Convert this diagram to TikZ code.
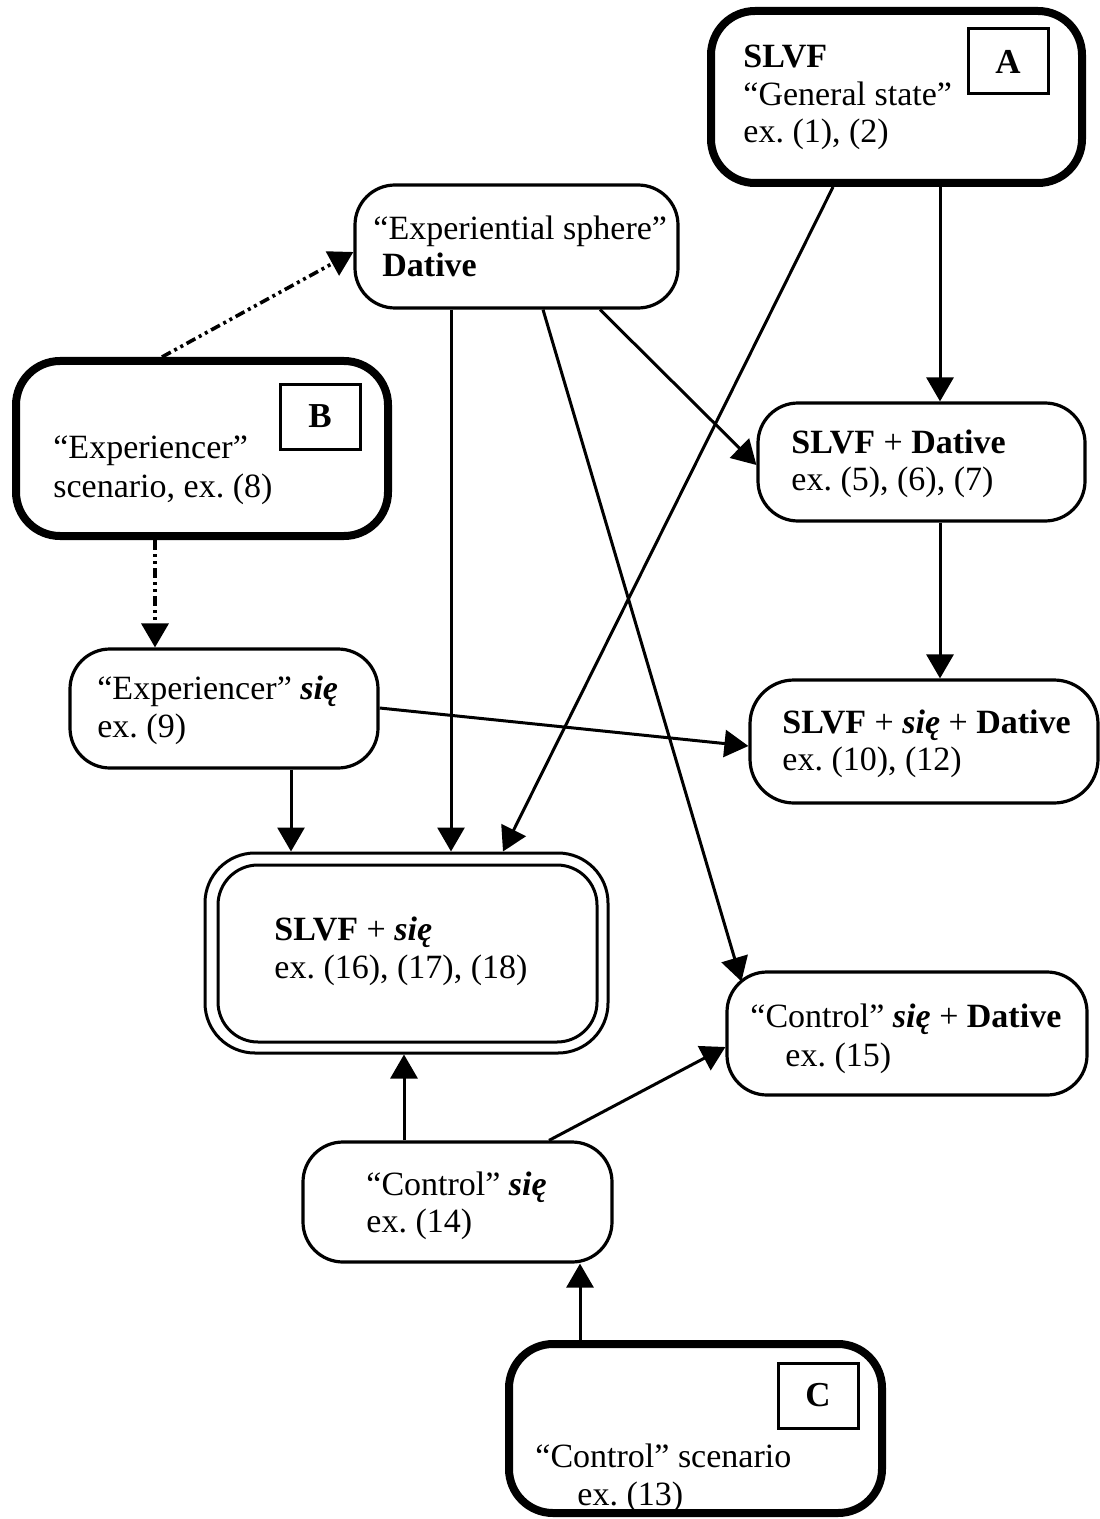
\documentclass[tikz,border=0pt]{standalone}
\usepackage{fontspec}
\setmainfont{Liberation Serif}
\usetikzlibrary{arrows.meta,calc}
\frenchspacing
\tikzset{
  box/.style={draw, rounded corners=20pt, line width=1.6pt, inner sep=0pt, fill=white},
  thickbox/.style={draw, rounded corners=22pt, line width=4pt, inner sep=0pt, fill=white},
  labelbox/.style={draw, line width=1.5pt, inner sep=0pt, minimum width=40pt, minimum height=32.5pt,
    font=\fontsize{17.5}{20}\selectfont\bfseries},
  txt/.style={anchor=base west, inner sep=0pt, font=\fontsize{17}{20}\selectfont},
  arr/.style={-{Triangle[length=12pt,width=13.5pt]}, line width=1.5pt},
  dasharr/.style={arr, line width=1.8pt, dash pattern=on 5pt off 2pt on 1.5pt off 2pt on 1.5pt off 2pt}
}
\newcommand{\sie}{\textbf{\textit{się}}}
\begin{document}
\frenchspacing
\begin{tikzpicture}[x=0.5pt,y=-0.5pt]
\useasboundingbox (0,0) rectangle (1099,1519);
% boxes
\node[thickbox, minimum width=185.5pt, minimum height=86pt] (A) at (896.5,97) {};
\node[labelbox] (LA) at (1008,61.5) {A};
\node[box, minimum width=161.5pt, minimum height=61.5pt] (E) at (516.5,246.5) {};
\node[thickbox, minimum width=186pt, minimum height=87.5pt] (B) at (202,448.5) {};
\node[labelbox] (LB) at (320,416.5) {B};
\node[box, minimum width=163.5pt, minimum height=59pt] (SD) at (921.5,462) {};
\node[box, minimum width=154pt, minimum height=59.5pt] (ES) at (224,708.5) {};
\node[box, rounded corners=22pt, minimum width=174pt, minimum height=61.5pt] (SSD) at (924,741.5) {};
\node[box, rounded corners=25pt, line width=1.5pt, minimum width=201.5pt, minimum height=100pt] (S) at (406.5,953) {};
\node[box, line width=1.5pt, minimum width=189.5pt, minimum height=88.5pt] (Si) at (407.5,953.5) {};
\node[box, minimum width=180pt, minimum height=61.5pt] (CD) at (907,1033.5) {};
\node[box, minimum width=154.5pt, minimum height=60pt] (CS) at (457.5,1202) {};
\node[thickbox, minimum width=186.5pt, minimum height=84.5pt] (C) at (695.5,1428.5) {};
\node[labelbox] (LC) at (818,1395.5) {C};
% texts
\node[txt] (tA1) at (743,68) {\textbf{SLVF}};
\node[txt] (tA2) at (743,106) {“General state”};
\node[txt] (tA3) at (743,143) {ex. (1), (2)};
\node[txt] (tE1) at (373,240) {“Experiential sphere”};
\node[txt] (tE2) at (382,277) {\textbf{Dative}};
\node[txt] (tB1) at (53,458) {“Experiencer”};
\node[txt] (tB2) at (53,497) {scenario, ex. (8)};
\node[txt] (tSD1) at (791,453) {\textbf{SLVF} + \textbf{Dative}};
\node[txt] (tSD2) at (791,490) {ex. (5), (6), (7)};
\node[txt] (tES1) at (97,699) {“Experiencer” \sie};
\node[txt] (tES2) at (97,737) {ex. (9)};
\node[txt] (tSSD1) at (782,733) {\textbf{SLVF} + \sie{} + \textbf{Dative}};
\node[txt] (tSSD2) at (782,770) {ex. (10), (12)};
\node[txt] (tS1) at (274,940) {\textbf{SLVF} + \sie};
\node[txt] (tS2) at (274,978) {ex. (16), (17), (18)};
\node[txt] (tCD1) at (750,1027) {“Control” \sie{} + \textbf{Dative}};
\node[txt] (tCD2) at (785,1066) {ex. (15)};
\node[txt] (tCS1) at (366,1195) {“Control” \sie};
\node[txt] (tCS2) at (366,1232) {ex. (14)};
\node[txt] (tC1) at (535,1467) {“Control” scenario};
\node[txt] (tC2) at (577,1505) {ex. (13)};
% connectors
\coordinate (cdTip) at ($(CD.north west)+(16,11)$);
\draw[dasharr] (B.north -| 162,0) -- (E.west |- 0,252);
\draw[dasharr] (B.south -| 155,0) -- (ES.north -| 155,0);
\draw[arr] (A.south -| 940,0) -- (SD.north -| 940,0);
\draw[arr] (A.south -| 833,0) -- (S.north -| 503,0);
\draw[arr] (E.south -| 451,0) -- (S.north -| 451,0);
\draw[arr] (E.south -| 543,0) -- (cdTip);
\draw[arr] (E.south -| 600,0) -- (SD.west |- 0,465);
\draw[arr] (SD.south -| 940,0) -- (SSD.north -| 940,0);
\draw[arr] (ES.east |- 0,708) -- (SSD.west |- 0,746);
\draw[arr] (ES.south -| 291,0) -- (S.north -| 291,0);
\draw[arr] (CS.north -| 404,0) -- (S.south -| 404,0);
\draw[arr] (CS.north -| 549,0) -- (CD.west |- 0,1047);
\draw[arr] (C.north -| 580,0) -- (CS.south -| 580,0);
\end{tikzpicture}
\end{document}
